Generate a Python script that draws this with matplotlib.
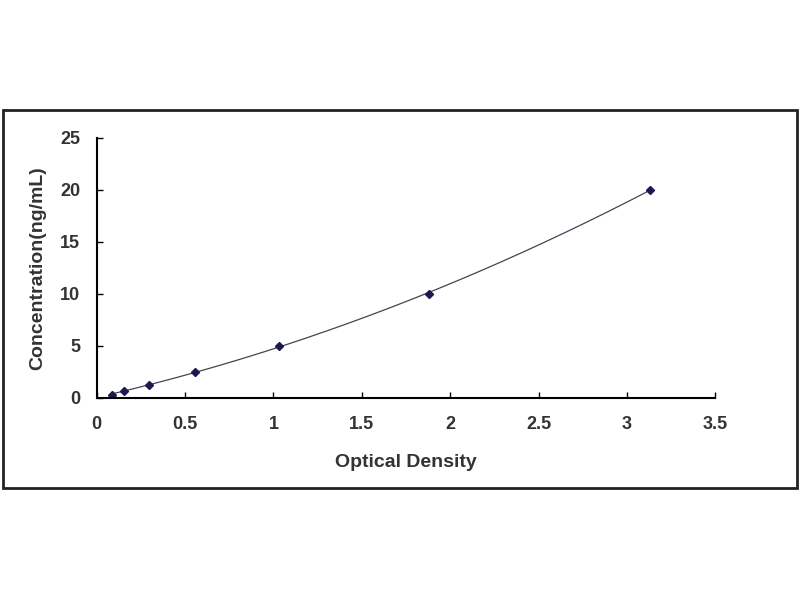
import numpy as np
import matplotlib.pyplot as plt
from matplotlib.patches import Rectangle

# Standard curve data
od = [0.085, 0.153, 0.295, 0.555, 1.03, 1.88, 3.13]
conc = [0.3125, 0.625, 1.25, 2.5, 5, 10, 20]

xticks = [0, 0.5, 1, 1.5, 2, 2.5, 3, 3.5]
yticks = [0, 5, 10, 15, 20, 25]

plt.rcParams['font.family'] = ['Liberation Sans', 'DejaVu Sans']

fig = plt.figure(figsize=(8, 6), dpi=100)
fig.patches.append(Rectangle((0.004, 0.187), 0.992, 0.63, transform=fig.transFigure,
                             fill=False, edgecolor='#222222', linewidth=2))

ax = fig.add_axes([0.121, 0.337, 0.773, 0.433])

# fitted curve (2nd order polynomial through the standards)
coef = np.polyfit(od, conc, 2)
xs = np.linspace(min(od), max(od), 200)
ax.plot(xs, np.polyval(coef, xs), color='#444455', linewidth=0.9)
ax.plot(od, conc, linestyle='none', marker='D', markersize=4, color='#1a1a50')

ax.set_xlim(0, 3.5)
ax.set_ylim(0, 25)
ax.set_xticks(xticks)
ax.set_xticklabels([f'{t:g}' for t in xticks])
ax.set_yticks(yticks)
ax.spines['top'].set_visible(False)
ax.spines['right'].set_visible(False)
ax.spines['left'].set_linewidth(1.5)
ax.spines['bottom'].set_linewidth(1.5)
ax.tick_params(direction='in', length=4, width=1, labelsize=13)
ax.tick_params(axis='x', pad=13)
ax.tick_params(axis='y', pad=12)
for lab in ax.get_xticklabels() + ax.get_yticklabels():
    lab.set_fontweight('bold')
    lab.set_color('#333333')

ax.set_xlabel('Optical Density', fontsize=14, fontweight='bold', color='#333333', labelpad=15)
ax.set_ylabel('Concentration(ng/mL)', fontsize=14, fontweight='bold', color='#333333', labelpad=10)

fig.savefig('out.png', dpi=100)
